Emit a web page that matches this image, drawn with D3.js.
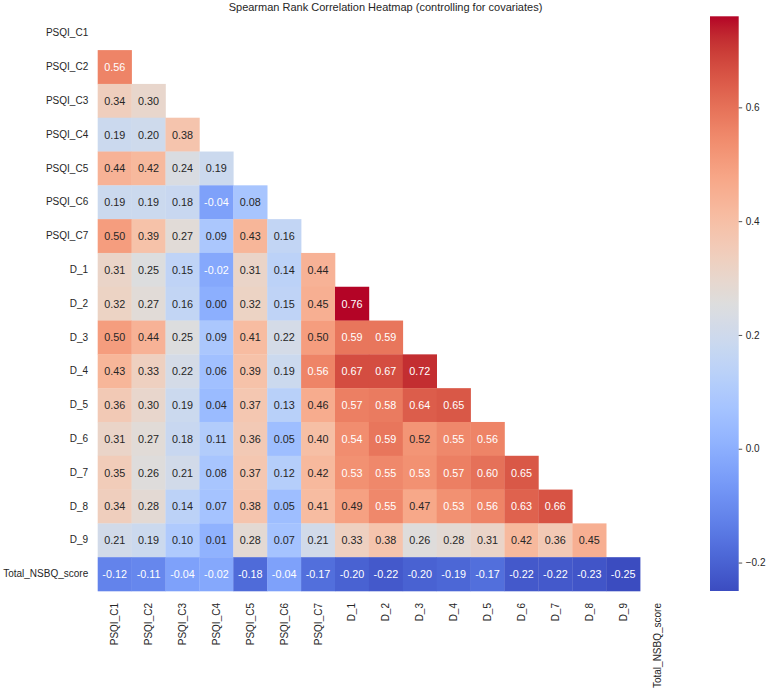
<!DOCTYPE html>
<html>
<head>
<meta charset="utf-8">
<script src="https://cdn.jsdelivr.net/npm/d3@7"></script>
<style>
  body { margin: 0; background: #fff; }
  svg { font-family: "Liberation Sans", Arial, sans-serif; }
</style>
</head>
<body>
<div id="chart-area"></div>
<script>
// SVG Size
let width = 770,
	height = 690;

// variables (rows and columns)
const variables = ["PSQI_C1", "PSQI_C2", "PSQI_C3", "PSQI_C4", "PSQI_C5", "PSQI_C6", "PSQI_C7",
	"D_1", "D_2", "D_3", "D_4", "D_5", "D_6", "D_7", "D_8", "D_9", "Total_NSBQ_score"];

// lower triangle, row i holds correlations with columns 0..i-1
const lowerValues = [
	[],
	[0.56],
	[0.34, 0.30],
	[0.19, 0.20, 0.38],
	[0.44, 0.42, 0.24, 0.19],
	[0.19, 0.19, 0.18, -0.04, 0.08],
	[0.50, 0.39, 0.27, 0.09, 0.43, 0.16],
	[0.31, 0.25, 0.15, -0.02, 0.31, 0.14, 0.44],
	[0.32, 0.27, 0.16, 0.00, 0.32, 0.15, 0.45, 0.76],
	[0.50, 0.44, 0.25, 0.09, 0.41, 0.22, 0.50, 0.59, 0.59],
	[0.43, 0.33, 0.22, 0.06, 0.39, 0.19, 0.56, 0.67, 0.67, 0.72],
	[0.36, 0.30, 0.19, 0.04, 0.37, 0.13, 0.46, 0.57, 0.58, 0.64, 0.65],
	[0.31, 0.27, 0.18, 0.11, 0.36, 0.05, 0.40, 0.54, 0.59, 0.52, 0.55, 0.56],
	[0.35, 0.26, 0.21, 0.08, 0.37, 0.12, 0.42, 0.53, 0.55, 0.53, 0.57, 0.60, 0.65],
	[0.34, 0.28, 0.14, 0.07, 0.38, 0.05, 0.41, 0.49, 0.55, 0.47, 0.53, 0.56, 0.63, 0.66],
	[0.21, 0.19, 0.10, 0.01, 0.28, 0.07, 0.21, 0.33, 0.38, 0.26, 0.28, 0.31, 0.42, 0.36, 0.45],
	[-0.12, -0.11, -0.04, -0.02, -0.18, -0.04, -0.17, -0.20, -0.22, -0.20, -0.19, -0.17, -0.22, -0.22, -0.23, -0.25]
];

const colorTicks = [-0.2, 0.0, 0.2, 0.4, 0.6];

// coolwarm colormap (Moreland), 33 stops
const coolwarm = [
	[59,76,192],[68,90,204],[77,104,215],[87,117,225],[98,130,234],[108,142,241],[119,154,247],[130,165,251],
	[141,176,254],[152,185,255],[163,194,255],[174,201,253],[184,208,249],[194,213,244],[204,217,238],[213,219,230],
	[221,221,221],[229,216,209],[236,211,197],[241,204,185],[245,196,173],[247,187,160],[247,177,148],[247,166,135],
	[244,154,123],[241,141,111],[236,127,99],[229,112,88],[222,96,77],[213,80,66],[203,62,56],[192,40,47],[180,4,38]
];

// flatten into cells
let cells = [];
lowerValues.forEach((row, i) => {
	row.forEach((v, j) => cells.push({ row: variables[i], col: variables[j], value: v }));
});

const vmin = d3.min(cells, d => d.value),
	vmax = d3.max(cells, d => d.value);

// scales
const grid = { left: 97.7, top: 16.3, right: 674, bottom: 591 };

const x = d3.scaleBand().domain(variables).range([grid.left, grid.right]);
const y = d3.scaleBand().domain(variables).range([grid.top, grid.bottom]);

const cmap = d3.scaleLinear()
	.domain(coolwarm.map((c, i) => i / (coolwarm.length - 1)))
	.range(coolwarm.map(c => d3.rgb(c[0], c[1], c[2])))
	.interpolate(d3.interpolateRgb)
	.clamp(true);
const norm = d3.scaleLinear().domain([vmin, vmax]).range([0, 1]).clamp(true);
const color = v => cmap(norm(v));

// luminance rule for annotation colour
function luminance(c) {
	const rgb = d3.rgb(c);
	const lin = u => { u /= 255; return u <= 0.03928 ? u / 12.92 : Math.pow((u + 0.055) / 1.055, 2.4); };
	return 0.2126 * lin(rgb.r) + 0.7152 * lin(rgb.g) + 0.0722 * lin(rgb.b);
}

let svg = d3.select("#chart-area")
	.append("svg")
	.attr("width", width)
	.attr("height", height);

// cells
svg.selectAll("rect.cell")
	.data(cells)
	.enter()
	.append("rect")
	.attr("class", "cell")
	.attr("x", d => x(d.col))
	.attr("y", d => y(d.row))
	.attr("width", x.bandwidth() + 0.3)
	.attr("height", y.bandwidth() + 0.3)
	.attr("fill", d => color(d.value));

// annotations
svg.selectAll("text.annot")
	.data(cells)
	.enter()
	.append("text")
	.attr("class", "annot")
	.attr("x", d => x(d.col) + x.bandwidth() / 2)
	.attr("y", d => y(d.row) + y.bandwidth() / 2)
	.attr("dy", "0.36em")
	.attr("text-anchor", "middle")
	.style("font-size", "10.8px")
	.attr("fill", d => luminance(color(d.value)) < 0.408 ? "#ffffff" : "#262626")
	.text(d => d3.format(".2f")(d.value).replace("−", "-"));

// axes (no tick marks)
let yAxis = d3.axisLeft(y).tickSize(0).tickPadding(9.5);
svg.append("g")
	.attr("class", "axis y-axis")
	.attr("transform", "translate(" + grid.left + ",0)")
	.call(yAxis)
	.call(g => g.select(".domain").remove())
	.selectAll("text")
	.style("font-size", "10px")
	.attr("fill", "#262626");

let xAxis = d3.axisBottom(x).tickSize(0);
svg.append("g")
	.attr("class", "axis x-axis")
	.attr("transform", "translate(0," + grid.bottom + ")")
	.call(xAxis)
	.call(g => g.select(".domain").remove())
	.selectAll("text")
	.style("font-size", "10px")
	.attr("fill", "#262626")
	.attr("transform", "rotate(-90)")
	.attr("x", -12)
	.attr("y", 0)
	.attr("dy", "0.35em")
	.style("text-anchor", "end");

// colorbar
const cb = { x: 710, w: 28.7 };
const cbScale = d3.scaleLinear().domain([vmin, vmax]).range([grid.bottom, grid.top]);

let defs = svg.append("defs");
let grad = defs.append("linearGradient")
	.attr("id", "cbgrad")
	.attr("x1", 0).attr("y1", 1).attr("x2", 0).attr("y2", 0);
grad.selectAll("stop")
	.data(d3.range(0, 1.0001, 0.02))
	.enter()
	.append("stop")
	.attr("offset", d => d)
	.attr("stop-color", d => cmap(d));

svg.append("rect")
	.attr("x", cb.x)
	.attr("y", grid.top)
	.attr("width", cb.w)
	.attr("height", grid.bottom - grid.top)
	.attr("fill", "url(#cbgrad)");

let cbAxis = d3.axisRight(cbScale)
	.tickValues(colorTicks)
	.tickSize(3.5)
	.tickPadding(3.5)
	.tickFormat(d3.format(".1f"));
svg.append("g")
	.attr("class", "axis cb-axis")
	.attr("transform", "translate(" + (cb.x + cb.w) + ",0)")
	.call(cbAxis)
	.call(g => g.select(".domain").remove())
	.call(g => g.selectAll("line").attr("stroke", "#262626").attr("stroke-width", 0.8))
	.selectAll("text")
	.style("font-size", "10px")
	.attr("fill", "#262626");

// title
svg.append("text")
	.text("Spearman Rank Correlation Heatmap (controlling for covariates)")
	.attr("x", 385.5)
	.attr("y", 10.5)
	.style("font-size", "11px")
	.attr("fill", "#262626")
	.style("text-anchor", "middle");
</script>
</body>
</html>
